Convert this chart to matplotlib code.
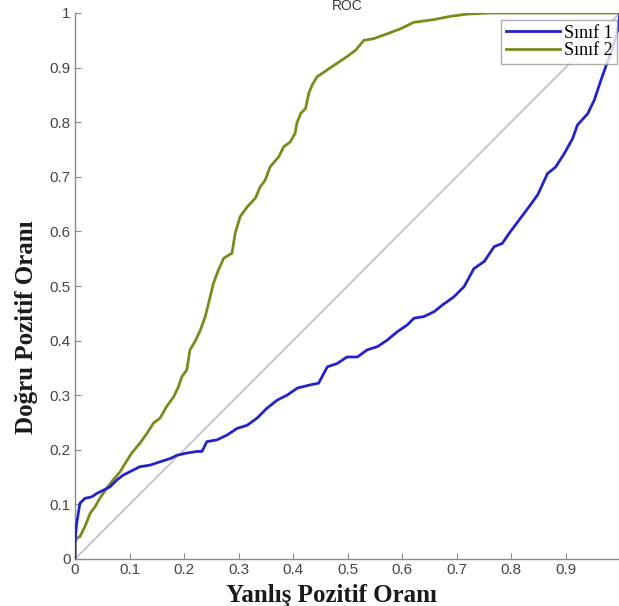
import matplotlib
matplotlib.use("Agg")
import matplotlib.pyplot as plt

# ROC curve for class 1 (false positive rate, true positive rate)
fpr_1 = [0, 0, 0.003, 0.009, 0.018, 0.031, 0.04, 0.052, 0.064, 0.077, 0.089, 0.101,
         0.119, 0.138, 0.156, 0.175, 0.187, 0.205, 0.224, 0.233, 0.242, 0.26, 0.279,
         0.297, 0.316, 0.334, 0.352, 0.371, 0.389, 0.408, 0.432, 0.447, 0.463, 0.481,
         0.499, 0.518, 0.536, 0.555, 0.573, 0.591, 0.61, 0.622, 0.64, 0.659, 0.674,
         0.695, 0.714, 0.732, 0.751, 0.769, 0.784, 0.797, 0.815, 0.833, 0.849, 0.867,
         0.882, 0.898, 0.913, 0.922, 0.941, 0.953, 0.965, 0.974, 0.986, 0.996, 1.0]
tpr_1 = [0, 0.03, 0.065, 0.102, 0.111, 0.114, 0.12, 0.126, 0.132, 0.145, 0.154, 0.16,
         0.169, 0.172, 0.178, 0.184, 0.19, 0.194, 0.197, 0.197, 0.215, 0.218, 0.227,
         0.239, 0.245, 0.258, 0.276, 0.291, 0.3, 0.313, 0.319, 0.322, 0.352, 0.358,
         0.37, 0.37, 0.383, 0.389, 0.401, 0.416, 0.429, 0.441, 0.444, 0.453, 0.465,
         0.48, 0.499, 0.532, 0.545, 0.572, 0.578, 0.597, 0.621, 0.645, 0.667, 0.706,
         0.718, 0.743, 0.77, 0.795, 0.816, 0.841, 0.877, 0.902, 0.935, 0.969, 1.0]

# ROC curve for class 2
fpr_2 = [0, 0, 0.003, 0.009, 0.018, 0.028, 0.037, 0.046, 0.058, 0.07, 0.083, 0.092,
         0.104, 0.119, 0.132, 0.144, 0.156, 0.168, 0.181, 0.19, 0.196, 0.205, 0.211,
         0.22, 0.23, 0.239, 0.245, 0.254, 0.263, 0.273, 0.288, 0.294, 0.303, 0.316,
         0.331, 0.34, 0.349, 0.358, 0.374, 0.383, 0.395, 0.404, 0.407, 0.414, 0.423,
         0.429, 0.435, 0.444, 0.463, 0.481, 0.499, 0.515, 0.53, 0.548, 0.573, 0.597,
         0.622, 0.659, 0.689, 0.72, 0.76, 0.85, 1.0]
tpr_2 = [0, 0.03, 0.038, 0.041, 0.059, 0.084, 0.096, 0.112, 0.129, 0.145, 0.16, 0.175,
         0.194, 0.212, 0.23, 0.249, 0.258, 0.279, 0.297, 0.316, 0.334, 0.346, 0.383,
         0.398, 0.419, 0.444, 0.468, 0.505, 0.529, 0.551, 0.56, 0.597, 0.627, 0.645,
         0.661, 0.682, 0.694, 0.718, 0.737, 0.755, 0.764, 0.78, 0.798, 0.816, 0.825,
         0.853, 0.868, 0.883, 0.896, 0.908, 0.92, 0.932, 0.95, 0.953, 0.962, 0.971,
         0.983, 0.988, 0.994, 0.998, 1.0, 1.0, 1.0]

series_labels = ["Sınıf 1", "Sınıf 2"]
x_ticks = [0, 0.1, 0.2, 0.3, 0.4, 0.5, 0.6, 0.7, 0.8, 0.9, 1]
x_tick_labels = ["0", "0.1", "0.2", "0.3", "0.4", "0.5", "0.6", "0.7", "0.8", "0.9", ""]
y_ticks = [0, 0.1, 0.2, 0.3, 0.4, 0.5, 0.6, 0.7, 0.8, 0.9, 1]
y_tick_labels = ["0", "0.1", "0.2", "0.3", "0.4", "0.5", "0.6", "0.7", "0.8", "0.9", "1"]

W, H = 619, 606
fig = plt.figure(figsize=(W / 100, H / 100), dpi=100)
ax = fig.add_axes([75 / W, 47 / H, 545 / W, 546 / H])

ax.plot([0, 1], [0, 1], color="#c4c4c4", lw=1.3, zorder=1)
ax.plot(fpr_1, tpr_1, color="#2323c8", lw=2.0, label=series_labels[0], zorder=3)
ax.plot(fpr_2, tpr_2, color="#7c8a1c", lw=2.0, label=series_labels[1], zorder=2)

ax.set_xlim(0, 1)
ax.set_ylim(0, 1)
ax.set_xticks(x_ticks)
ax.set_xticklabels(x_tick_labels)
ax.set_yticks(y_ticks)
ax.set_yticklabels(y_tick_labels)

for side in ("top", "right"):
    ax.spines[side].set_visible(False)
for side in ("left", "bottom"):
    ax.spines[side].set_color("#8a8a8a")
    ax.spines[side].set_linewidth(1.0)

ax.tick_params(direction="in", length=4, width=0.8, color="#8a8a8a",
               labelsize=11, labelcolor="#444444", pad=3)
for lab in ax.get_xticklabels() + ax.get_yticklabels():
    lab.set_family("Liberation Sans")

serif_bold = dict(family="Liberation Serif", weight="bold", size=18, color="#1a1a1a")
ax.set_xlabel("Yanlış Pozitif Oranı", **serif_bold)
ax.set_ylabel("Doğru Pozitif Oranı", **serif_bold)
ax.xaxis.set_label_coords(0.47, -0.045)
ax.yaxis.set_label_coords(-0.068, 0.425)

ax.set_title("ROC", family="Liberation Sans", fontsize=10, color="#3a3a3a", pad=2)

leg = ax.legend(loc="upper right", bbox_to_anchor=(617 / W, 1 - 20 / H),
                bbox_transform=fig.transFigure, borderaxespad=0,
                prop=dict(family="Liberation Serif", size=13),
                frameon=True, fancybox=False, handlelength=3.0,
                handletextpad=0.2, borderpad=0.25, labelspacing=0.05)
leg.get_frame().set_edgecolor("#9a9a9a")
leg.get_frame().set_linewidth(1.0)

fig.savefig("out.png", dpi=100)
